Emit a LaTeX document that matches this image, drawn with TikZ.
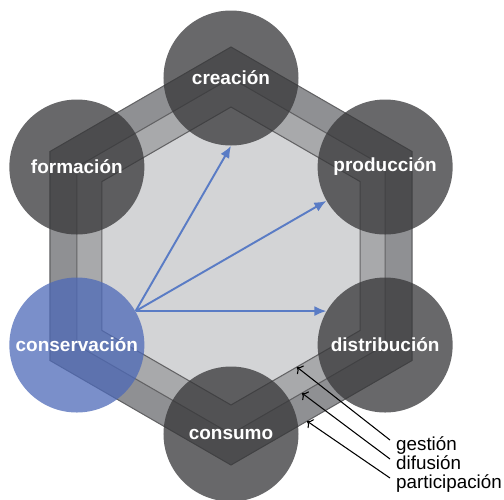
\documentclass[tikz,border=0pt]{standalone}
\usepackage{fontspec}
\setmainfont{Liberation Sans}
\usetikzlibrary{calc,arrows.meta}

\definecolor{ringdark}{HTML}{8F9093}
\definecolor{ringmid}{HTML}{A8A9AB}
\definecolor{ringlight}{HTML}{D3D4D6}
\definecolor{edgegray}{HTML}{626264}
\definecolor{stagegray}{HTML}{363638}
\definecolor{stageblue}{HTML}{4D69B8}
\definecolor{flowblue}{HTML}{5A7CC5}

\begin{document}
\begin{tikzpicture}[
    stage/.style={
      % The shape:
      circle,
      % The size:
      minimum size=2.7cm,
      inner sep=0pt,
      % The filling, a bit see-through
      fill=stagegray,
      fill opacity=0.75,
      text opacity=1,
      % Font
      text=white,
      font=\fontsize{10.8}{13}\selectfont\bfseries,
    },
    ring/.style={draw=edgegray, line width=0.6pt, line join=miter},
    flow/.style={-{Latex[length=2.4mm,width=2mm]}, line width=1.1pt, color=flowblue},
    layer/.style={font=\fontsize{10.7}{13}\selectfont, anchor=base west},
    pointer/.style={->, line width=0.6pt, color=black},
  ]
    \useasboundingbox (-4.62,-4.86) rectangle (5.46,5.12);

    % the three nested hexagons
    \foreach \r/\c in {4.18/ringdark, 3.56/ringmid, 2.98/ringlight}
      \draw[ring, fill=\c] (90:\r) -- (150:\r) -- (210:\r) -- (270:\r)
            -- (330:\r) -- (30:\r) -- cycle;

    \node[stage] (creacion) at (90:3.56) {creación};
    \node[stage] (produccion) at (30:3.56) {producción};
    \node[stage] (distribucion) at (-30:3.56) {distribución};
    \node[stage] (consumo) at (-90:3.56) {consumo};
    \node[stage, fill=stageblue] (conservacion) at (210:3.56) {conservación};
    \node[stage] (formacion) at (150:3.56) {formación};

    \draw[flow] (conservacion.30) -- (creacion.south);
    \draw[flow] (conservacion.30) -- (produccion.210);
    \draw[flow] (conservacion.30) -- (distribucion.150);

    % points on the lower right edge of each hexagon
    \coordinate (gestion tip) at ($(-90:2.98)!0.51!(-30:2.98)$);
    \coordinate (difusion tip) at ($(-90:3.56)!0.46!(-30:3.56)$);
    \coordinate (participacion tip) at ($(-90:4.18)!0.42!(-30:4.18)$);

    \node[layer] (gestion) at (3.18,-3.88) {gestión};
    \node[layer] (difusion) at (3.18,-4.26) {difusión};
    \node[layer] (participacion) at (3.18,-4.64) {participación};

    \draw[pointer] ([yshift=0.2cm]gestion.base west) -- (gestion tip);
    \draw[pointer] ([yshift=0.2cm]difusion.base west) -- (difusion tip);
    \draw[pointer] ([yshift=0.2cm]participacion.base west) -- (participacion tip);
  \end{tikzpicture}
\end{document}
